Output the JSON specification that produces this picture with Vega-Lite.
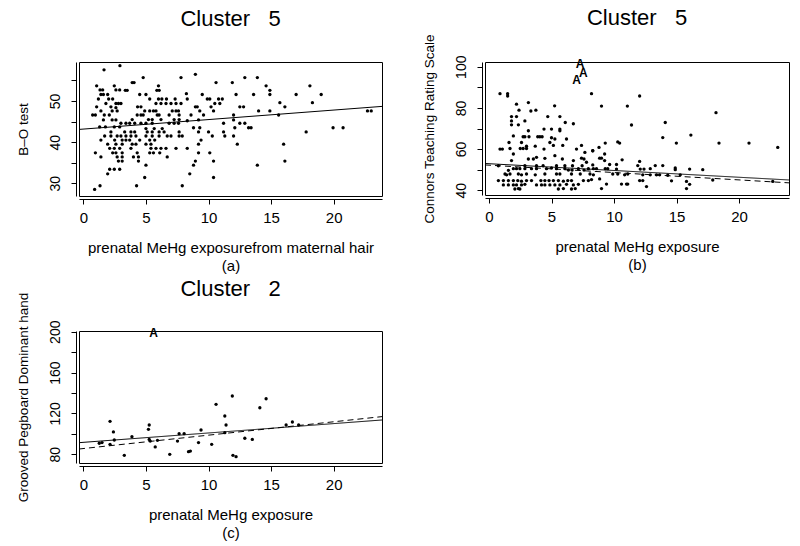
{
"$schema": "https://vega.github.io/schema/vega-lite/v6.json",
"background": "white",
"padding": {"left": 15, "top": 6, "right": 5, "bottom": 5},
"columns": 2,
"spacing": {"row": 135, "column": 103},
"bounds": "flush",
"config": {
"view": {"stroke": "black", "strokeWidth": 1},
"font": "Liberation Sans",
"axis": {"grid": false, "domainColor": "black", "tickColor": "black", "labelColor": "black", "titleColor": "black", "labelFont": "Liberation Sans", "titleFont": "Liberation Sans", "titleFontWeight": "normal", "offset": 3, "tickSize": 5, "labelFlush": false, "labelOverlap": false, "domainWidth": 1, "tickWidth": 1},
"axisX": {"labelFontSize": 15, "titleFontSize": 15, "labelPadding": 6, "titlePadding": 15, "titleLineHeight": 18},
"axisY": {"labelFontSize": 14, "titleFontSize": 13.5, "labelAngle": -90, "labelAlign": "center", "labelBaseline": "bottom", "labelPadding": 9, "titlePadding": 18},
"title": {"fontSize": 22, "font": "Liberation Sans", "fontWeight": "normal", "offset": 30, "frame": "group", "color": "black"}
},
"datasets": {
"pa": [
{"x":2.92,"y":58.6},{"x":1.65,"y":57.6},{"x":4.78,"y":55.7},{"x":3.9,"y":54.5},{"x":4.05,"y":54.5},{"x":7.8,"y":55.7},{"x":1.06,"y":53.7},{"x":2.47,"y":53.7},{"x":6.0,"y":53.7},
{"x":1.33,"y":52.7},{"x":1.54,"y":52.7},{"x":2.6,"y":52.7},{"x":2.9,"y":52.7},{"x":3.35,"y":52.6},{"x":3.5,"y":52.6},{"x":5.87,"y":52.6},{"x":6.06,"y":52.6},
{"x":1.4,"y":51.6},{"x":1.6,"y":51.6},{"x":1.94,"y":51.6},{"x":4.5,"y":51.6},{"x":5.0,"y":51.6},
{"x":1.2,"y":50.5},{"x":2.02,"y":50.5},{"x":2.34,"y":50.5},{"x":5.3,"y":50.5},{"x":6.0,"y":50.5},{"x":6.27,"y":50.5},{"x":6.64,"y":50.5},{"x":7.33,"y":50.5},{"x":8.23,"y":51.8},
{"x":2.6,"y":49.4},{"x":2.8,"y":49.4},{"x":3.0,"y":49.4},{"x":1.8,"y":49.4},{"x":4.33,"y":48.6},{"x":4.6,"y":48.6},{"x":5.8,"y":49.4},{"x":6.2,"y":49.4},{"x":6.6,"y":49.4},{"x":7.0,"y":49.4},{"x":7.4,"y":49.4},{"x":7.8,"y":49.4},
{"x":1.06,"y":48.6},{"x":2.2,"y":48.6},{"x":2.6,"y":48.4},
{"x":4.9,"y":47.6},{"x":5.3,"y":47.6},{"x":5.6,"y":47.6},{"x":5.8,"y":47.6},{"x":1.4,"y":47.6},{"x":2.3,"y":47.6},{"x":2.7,"y":47.6},{"x":7.1,"y":47.6},{"x":7.4,"y":47.6},{"x":7.6,"y":47.6},
{"x":0.74,"y":46.6},{"x":0.96,"y":46.6},{"x":1.67,"y":46.6},{"x":2.07,"y":46.6},{"x":4.3,"y":46.6},{"x":4.6,"y":46.6},{"x":4.78,"y":46.6},{"x":5.9,"y":46.6},{"x":6.05,"y":46.6},{"x":6.85,"y":46.6},{"x":7.65,"y":46.6},
{"x":1.6,"y":45.4},{"x":2.3,"y":45.4},{"x":2.6,"y":45.4},{"x":3.9,"y":45.5},{"x":5.2,"y":45.5},{"x":5.5,"y":45.5},{"x":6.2,"y":45.5},{"x":7.25,"y":45.5},{"x":7.65,"y":45.5},
{"x":3.0,"y":44.6},{"x":3.4,"y":44.6},{"x":3.7,"y":44.6},{"x":4.1,"y":44.6},{"x":4.6,"y":44.6},{"x":5.0,"y":44.6},{"x":5.5,"y":44.6},{"x":6.85,"y":44.6},{"x":7.25,"y":44.6},{"x":7.6,"y":44.6},
{"x":1.3,"y":43.7},{"x":1.76,"y":43.7},{"x":2.47,"y":43.7},{"x":2.9,"y":43.7},{"x":5.0,"y":43.3},{"x":5.66,"y":43.3},{"x":6.3,"y":43.3},
{"x":2.2,"y":42.5},{"x":3.3,"y":42.5},{"x":3.8,"y":42.5},{"x":4.1,"y":42.5},{"x":5.1,"y":42.5},{"x":5.5,"y":42.5},{"x":6.05,"y":42.5},{"x":6.45,"y":42.5},{"x":7.65,"y":42.5},
{"x":1.7,"y":41.5},{"x":2.2,"y":41.5},{"x":2.7,"y":41.5},{"x":3.0,"y":41.5},{"x":3.4,"y":41.5},{"x":3.8,"y":41.5},{"x":4.2,"y":41.5},{"x":5.0,"y":41.5},{"x":5.5,"y":41.5},{"x":6.05,"y":41.5},{"x":6.7,"y":41.5},{"x":7.0,"y":41.5},{"x":7.65,"y":41.5},{"x":7.9,"y":41.5},
{"x":1.4,"y":40.5},{"x":2.5,"y":40.5},{"x":3.1,"y":40.5},{"x":3.4,"y":40.5},{"x":3.7,"y":40.5},{"x":4.5,"y":40.5},{"x":5.3,"y":40.5},{"x":5.7,"y":40.5},
{"x":1.94,"y":39.5},{"x":2.6,"y":39.5},{"x":3.1,"y":39.5},{"x":3.9,"y":39.5},{"x":4.2,"y":39.5},{"x":5.0,"y":39.5},{"x":5.4,"y":39.5},
{"x":2.1,"y":38.5},{"x":2.47,"y":38.5},{"x":2.9,"y":38.5},{"x":3.8,"y":38.5},{"x":5.4,"y":38.5},{"x":5.8,"y":38.5},{"x":6.2,"y":38.5},{"x":6.6,"y":38.5},{"x":7.4,"y":38.5},
{"x":2.34,"y":37.4},{"x":2.6,"y":37.4},{"x":3.1,"y":37.4},{"x":4.3,"y":37.4},{"x":0.96,"y":37.4},{"x":5.3,"y":37.4},{"x":5.6,"y":37.4},{"x":6.1,"y":37.4},{"x":6.7,"y":36.4},
{"x":1.4,"y":36.4},{"x":2.7,"y":36.4},{"x":3.1,"y":36.4},{"x":4.0,"y":36.4},{"x":4.4,"y":36.4},
{"x":2.8,"y":35.4},{"x":3.1,"y":35.4},{"x":4.4,"y":35.4},
{"x":5.0,"y":34.4},{"x":2.1,"y":33.4},{"x":2.47,"y":33.4},{"x":2.9,"y":33.4},{"x":1.94,"y":32.3},{"x":4.9,"y":31.4},{"x":1.33,"y":29.4},{"x":0.9,"y":28.5},{"x":4.25,"y":29.4},{"x":7.9,"y":29.4},
{"x":8.95,"y":56.5},{"x":10.6,"y":54.5},{"x":11.9,"y":54.5},{"x":12.9,"y":55.7},{"x":13.9,"y":55.7},{"x":14.6,"y":53.7},{"x":14.9,"y":52.6},{"x":14.9,"y":51.6},{"x":12.2,"y":51.6},{"x":9.5,"y":51.6},{"x":13.6,"y":51.6},
{"x":9.9,"y":50.5},{"x":10.1,"y":50.5},{"x":10.8,"y":50.5},{"x":11.1,"y":50.5},{"x":8.3,"y":50.5},{"x":10.5,"y":49.4},{"x":10.9,"y":49.4},{"x":8.95,"y":48.6},{"x":9.1,"y":48.6},{"x":10.2,"y":48.6},{"x":12.5,"y":48.6},{"x":12.8,"y":48.6},{"x":15.7,"y":49.6},
{"x":9.3,"y":47.6},{"x":10.4,"y":47.6},{"x":14.0,"y":47.6},{"x":14.9,"y":47.6},{"x":16.1,"y":48.6},{"x":8.6,"y":46.6},{"x":9.6,"y":46.6},{"x":12.0,"y":46.6},{"x":15.6,"y":46.6},
{"x":8.3,"y":45.2},{"x":9.2,"y":45.4},{"x":12.0,"y":45.4},{"x":11.2,"y":44.6},{"x":12.5,"y":44.6},{"x":12.9,"y":44.6},{"x":13.2,"y":43.5},{"x":13.4,"y":43.5},{"x":8.8,"y":43.5},{"x":9.3,"y":43.5},{"x":12.1,"y":43.5},
{"x":9.2,"y":42.5},{"x":10.0,"y":42.5},{"x":11.2,"y":42.5},{"x":10.3,"y":41.5},{"x":11.3,"y":41.5},{"x":12.0,"y":41.5},{"x":9.4,"y":40.5},{"x":9.2,"y":39.5},{"x":12.3,"y":39.5},{"x":8.3,"y":38.5},{"x":10.1,"y":37.4},{"x":16.0,"y":39.5},{"x":9.2,"y":37.4},
{"x":8.95,"y":35.4},{"x":10.4,"y":35.4},{"x":16.1,"y":35.4},{"x":8.8,"y":34.4},{"x":13.9,"y":34.4},{"x":8.5,"y":32.3},{"x":10.4,"y":31.4},
{"x":18.1,"y":53.7},{"x":17.0,"y":51.6},{"x":19.0,"y":51.6},{"x":18.3,"y":49.6},{"x":22.7,"y":47.6},{"x":23.0,"y":47.6},{"x":17.8,"y":42.5},{"x":19.95,"y":43.5},{"x":20.75,"y":43.5}
],
"la": [{"x":-0.35,"y":43.1,"fit":"solid"},{"x":23.86,"y":48.7,"fit":"solid"}],
"pb": [
{"x":0.88,"y":86.9},{"x":1.49,"y":86.9},{"x":1.49,"y":85.8},{"x":8.2,"y":86.9},{"x":2.2,"y":81.8},{"x":3.15,"y":82.6},{"x":5.25,"y":81.0},{"x":2.4,"y":78.9},{"x":3.35,"y":78.5},{"x":3.75,"y":78.9},
{"x":1.8,"y":75.8},{"x":2.2,"y":75.8},{"x":4.7,"y":75.8},{"x":5.67,"y":75.8},{"x":6.1,"y":72.9},{"x":1.8,"y":73.7},{"x":1.8,"y":71.8},{"x":2.87,"y":73.7},{"x":2.35,"y":71.8},
{"x":4.4,"y":69.7},{"x":5.0,"y":69.7},{"x":5.67,"y":69.7},{"x":5.67,"y":68.9},{"x":3.15,"y":68.9},{"x":6.75,"y":72.3},
{"x":1.95,"y":66.4},{"x":2.73,"y":66.0},{"x":2.87,"y":66.0},{"x":3.2,"y":66.0},{"x":3.9,"y":66.0},{"x":4.07,"y":66.0},{"x":4.25,"y":66.0},{"x":5.0,"y":65.5},{"x":5.27,"y":64.9},{"x":6.2,"y":64.9},
{"x":1.6,"y":63.2},{"x":2.6,"y":63.2},{"x":3.0,"y":61.4},{"x":3.7,"y":61.4},{"x":4.87,"y":63.2},{"x":5.15,"y":61.8},
{"x":0.88,"y":60.0},{"x":1.07,"y":60.0},{"x":1.68,"y":60.3},{"x":2.5,"y":60.3},{"x":2.73,"y":60.3},{"x":3.0,"y":60.3},{"x":4.4,"y":60.0},{"x":5.9,"y":61.8},{"x":7.0,"y":60.0},{"x":7.4,"y":61.8},
{"x":7.67,"y":58.4},{"x":8.3,"y":59.2},{"x":1.95,"y":57.6},{"x":3.15,"y":55.2},{"x":3.8,"y":56.0},{"x":3.55,"y":55.2},{"x":4.47,"y":55.5},{"x":5.27,"y":56.8},{"x":5.87,"y":55.2},{"x":6.75,"y":54.4},{"x":7.4,"y":55.6},{"x":7.6,"y":55.2},{"x":7.8,"y":53.6},
{"x":1.8,"y":54.4},{"x":0.75,"y":51.9},{"x":2.87,"y":51.9},{"x":3.8,"y":51.9},{"x":4.33,"y":51.9},{"x":5.4,"y":51.9},{"x":6.07,"y":51.9},{"x":6.68,"y":51.9},{"x":7.45,"y":51.9},
{"x":1.55,"y":49.7},{"x":1.95,"y":50.5},{"x":2.2,"y":50.5},{"x":2.47,"y":50.5},{"x":2.87,"y":50.5},{"x":3.4,"y":50.5},{"x":3.8,"y":50.5},{"x":4.6,"y":50.5},{"x":5.0,"y":50.8},{"x":5.4,"y":50.5},{"x":6.07,"y":50.5},{"x":6.35,"y":49.8},{"x":6.65,"y":49.8},{"x":7.15,"y":50.5},{"x":7.6,"y":49.8},{"x":7.95,"y":50.5},{"x":8.35,"y":50.5},
{"x":1.28,"y":47.9},{"x":1.41,"y":47.5},{"x":1.68,"y":47.9},{"x":2.35,"y":47.9},{"x":2.6,"y":47.5},{"x":3.0,"y":47.9},{"x":3.7,"y":47.5},{"x":4.47,"y":47.9},{"x":5.4,"y":47.9},{"x":5.67,"y":47.9},{"x":6.6,"y":47.9},{"x":7.3,"y":47.9},{"x":8.08,"y":47.9},{"x":8.35,"y":47.5},
{"x":0.75,"y":44.7},{"x":1.15,"y":44.7},{"x":1.55,"y":44.7},{"x":1.95,"y":44.7},{"x":2.3,"y":44.7},{"x":2.6,"y":44.4},{"x":3.0,"y":44.7},{"x":3.4,"y":44.7},{"x":4.15,"y":44.7},{"x":4.47,"y":44.7},{"x":4.8,"y":44.7},{"x":5.15,"y":44.7},{"x":5.55,"y":44.7},{"x":5.95,"y":44.4},{"x":6.3,"y":44.7},{"x":6.6,"y":44.7},{"x":7.55,"y":44.7},{"x":7.95,"y":44.7},{"x":8.2,"y":45.2},
{"x":1.15,"y":42.6},{"x":1.55,"y":42.6},{"x":1.95,"y":42.6},{"x":2.2,"y":42.6},{"x":2.6,"y":42.6},{"x":2.87,"y":42.9},{"x":3.8,"y":42.6},{"x":4.2,"y":42.6},{"x":4.47,"y":42.6},{"x":4.87,"y":42.6},{"x":5.27,"y":42.6},{"x":5.67,"y":42.6},{"x":6.2,"y":42.9},{"x":6.75,"y":42.6},{"x":7.15,"y":42.9},
{"x":2.07,"y":40.6},{"x":2.35,"y":40.8},{"x":2.47,"y":40.6},{"x":5.55,"y":40.6},{"x":5.95,"y":40.8},{"x":6.6,"y":40.6},{"x":6.9,"y":40.8},
{"x":12.05,"y":85.8},{"x":9.0,"y":80.9},{"x":11.07,"y":80.9},{"x":11.4,"y":71.7},{"x":14.1,"y":72.9},{"x":13.9,"y":65.6},{"x":16.15,"y":66.8},{"x":14.99,"y":62.9},{"x":10.3,"y":63.5},{"x":10.45,"y":62.9},{"x":9.3,"y":62.9},{"x":8.8,"y":60.8},{"x":8.3,"y":59.2},{"x":9.25,"y":57.6},{"x":9.0,"y":55.6},{"x":8.85,"y":55.6},{"x":9.25,"y":54.4},{"x":10.65,"y":54.8},{"x":8.3,"y":52.3},{"x":9.65,"y":52.5},{"x":10.2,"y":52.5},{"x":12.05,"y":54.0},
{"x":8.6,"y":50.5},{"x":9.3,"y":50.5},{"x":9.5,"y":50.5},{"x":10.2,"y":50.3},{"x":11.9,"y":52.0},{"x":12.1,"y":50.3},{"x":12.4,"y":50.3},{"x":12.9,"y":50.5},{"x":13.3,"y":52.0},{"x":13.9,"y":52.0},{"x":14.9,"y":50.8},{"x":14.9,"y":50.0},{"x":16.05,"y":50.3},
{"x":9.9,"y":47.9},{"x":10.3,"y":47.9},{"x":10.85,"y":47.5},{"x":11.1,"y":47.9},{"x":12.3,"y":47.5},{"x":12.9,"y":47.5},{"x":13.4,"y":47.5},{"x":13.65,"y":47.5},{"x":14.3,"y":47.3},{"x":15.3,"y":47.5},
{"x":8.85,"y":45.5},{"x":9.4,"y":43.0},{"x":10.6,"y":43.0},{"x":11.0,"y":43.0},{"x":11.1,"y":43.0},{"x":12.05,"y":44.7},{"x":12.3,"y":44.7},{"x":14.6,"y":44.6},{"x":15.8,"y":44.3},{"x":9.0,"y":40.8},{"x":12.6,"y":41.8},{"x":15.8,"y":40.8},{"x":16.05,"y":42.9},
{"x":18.16,"y":77.7},{"x":18.4,"y":62.9},{"x":20.8,"y":62.9},{"x":23.1,"y":60.8},{"x":17.1,"y":50.0},{"x":17.9,"y":45.0},{"x":22.7,"y":44.3}
],
"tb": [{"x":7.28,"y":101.1,"label":"A"},{"x":7.55,"y":97.1,"label":"A"},{"x":7.0,"y":93.5,"label":"A"}],
"lb": [{"x":-0.32,"y":53.0,"fit":"solid"},{"x":24.0,"y":45.0,"fit":"solid"},{"x":-0.32,"y":52.3,"fit":"dashed"},{"x":24.0,"y":43.6,"fit":"dashed"}],
"pc": [
{"x":11.9,"y":137.1},{"x":14.6,"y":134.4},{"x":10.6,"y":128.9},{"x":14.1,"y":125.6},{"x":2.13,"y":112.3},{"x":11.3,"y":117.5},{"x":5.26,"y":108.7},{"x":5.2,"y":104.5},{"x":11.4,"y":108.7},{"x":16.7,"y":111.6},{"x":16.2,"y":108.7},{"x":17.2,"y":108.7},{"x":2.4,"y":101.9},{"x":9.4,"y":103.8},{"x":3.88,"y":97.3},{"x":7.65,"y":100.2},{"x":8.05,"y":100.2},{"x":11.3,"y":101.2},{"x":1.27,"y":90.8},{"x":1.49,"y":91.5},{"x":2.47,"y":94.0},{"x":5.26,"y":94.6},{"x":5.34,"y":93.0},{"x":5.92,"y":93.7},{"x":7.52,"y":93.0},{"x":2.13,"y":89.8},{"x":9.2,"y":91.5},{"x":10.25,"y":89.8},{"x":12.9,"y":95.7},{"x":13.5,"y":94.6},{"x":5.74,"y":87.2},{"x":3.27,"y":79.0},{"x":6.9,"y":80.0},{"x":8.4,"y":82.6},{"x":8.55,"y":83.2},{"x":11.95,"y":79.0},{"x":12.2,"y":77.7}
],
"tc": [{"x":5.6,"y":198.4,"label":"A"}],
"lc": [{"x":-0.35,"y":91.4,"fit":"solid"},{"x":23.86,"y":113.6,"fit":"solid"},{"x":-0.35,"y":85.2,"fit":"dashed"},{"x":23.86,"y":116.9,"fit":"dashed"}]
},
"concat": [
{
"title": {"text": "Cluster\u00a0\u00a0\u00a05", "offset": 31},
"width": 303, "height": 134,
"encoding": {
"x": {"field": "x", "type": "quantitative", "scale": {"domain": [-0.35, 23.86], "nice": false, "zero": false}, "axis": {"values": [0,5,10,15,20], "title": ["prenatal MeHg exposurefrom maternal hair", "(a)"]}},
"y": {"field": "y", "type": "quantitative", "scale": {"domain": [26.9, 59.5], "nice": false, "zero": false}, "axis": {"values": [30,35,40,45,50,55], "labelExpr": "datum.value % 10 == 0 ? datum.label : ''", "title": "B\u2013O test"}}
},
"layer": [
{"data": {"name": "pa"}, "mark": {"type": "circle", "size": 11, "opacity": 1, "color": "black"}},
{"data": {"name": "la"}, "mark": {"type": "line", "color": "black", "strokeWidth": 1}, "encoding": {"detail": {"field": "fit"}}}
]
},
{
"title": {"text": "Cluster\u00a0\u00a0\u00a05", "offset": 4},
"width": 304, "height": 133,
"encoding": {
"x": {"field": "x", "type": "quantitative", "scale": {"domain": [-0.32, 24.0], "nice": false, "zero": false}, "axis": {"values": [0,5,10,15,20], "title": ["prenatal MeHg exposure", "(b)"]}},
"y": {"field": "y", "type": "quantitative", "scale": {"domain": [37.7, 102.3], "nice": false, "zero": false}, "axis": {"values": [40,50,60,70,80,90,100], "labelExpr": "datum.value % 20 == 0 ? datum.label : ''", "title": "Connors Teaching Rating Scale"}}
},
"layer": [
{"data": {"name": "pb"}, "mark": {"type": "circle", "size": 11, "opacity": 1, "color": "black"}},
{"data": {"name": "tb"}, "mark": {"type": "text", "fontSize": 12, "fontWeight": "bold", "color": "black", "font": "Liberation Sans"}, "encoding": {"text": {"field": "label"}}},
{"data": {"name": "lb"}, "mark": {"type": "line", "color": "black", "strokeWidth": 1}, "encoding": {"strokeDash": {"field": "fit", "type": "nominal", "scale": {"domain": ["solid", "dashed"], "range": [[1, 0], [6, 4]]}, "legend": null}}}
]
},
{
"title": {"text": "Cluster\u00a0\u00a0\u00a02", "offset": -9},
"width": 303, "height": 132,
"encoding": {
"x": {"field": "x", "type": "quantitative", "scale": {"domain": [-0.35, 23.86], "nice": false, "zero": false}, "axis": {"values": [0,5,10,15,20], "title": ["prenatal MeHg exposure", "(c)"]}},
"y": {"field": "y", "type": "quantitative", "scale": {"domain": [71.5, 200.7], "nice": false, "zero": false}, "axis": {"values": [80,100,120,140,160,180,200], "labelExpr": "datum.value % 40 == 0 ? datum.label : ''", "title": "Grooved Pegboard Dominant hand"}}
},
"layer": [
{"data": {"name": "pc"}, "mark": {"type": "circle", "size": 11, "opacity": 1, "color": "black"}},
{"data": {"name": "tc"}, "mark": {"type": "text", "fontSize": 12, "fontWeight": "bold", "color": "black", "font": "Liberation Sans"}, "encoding": {"text": {"field": "label"}}},
{"data": {"name": "lc"}, "mark": {"type": "line", "color": "black", "strokeWidth": 1}, "encoding": {"strokeDash": {"field": "fit", "type": "nominal", "scale": {"domain": ["solid", "dashed"], "range": [[1, 0], [6, 4]]}, "legend": null}}}
]
}
]
}
